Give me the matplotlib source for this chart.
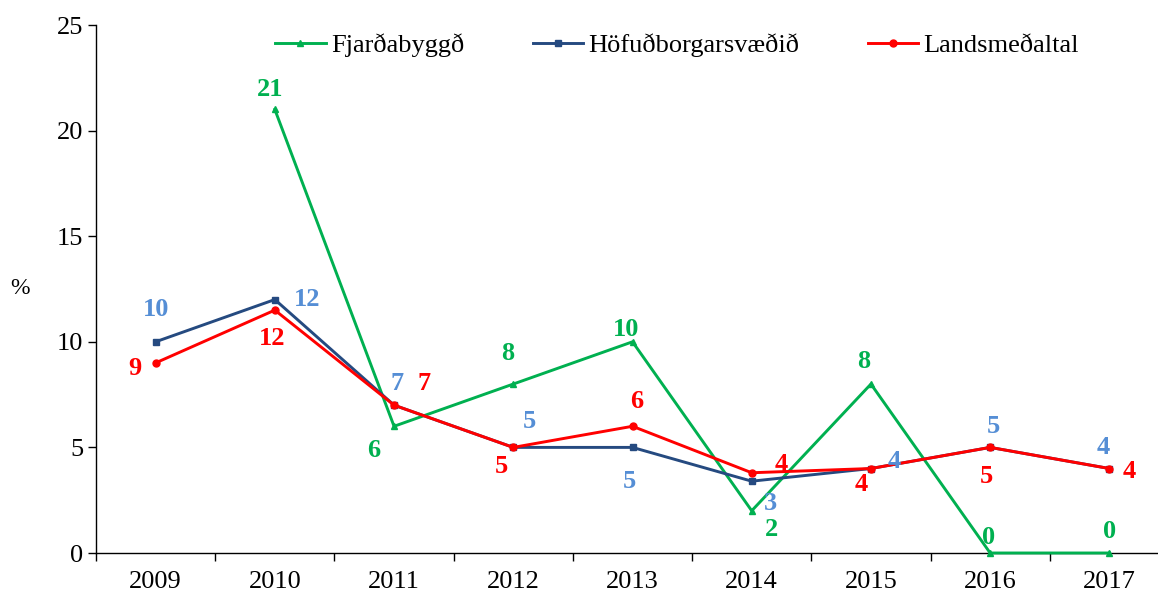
import numpy as np
import matplotlib
matplotlib.use('Agg')
import matplotlib.pyplot as plt

plt.rcParams['font.family'] = ['Liberation Serif', 'DejaVu Serif']

years = ['2009', '2010', '2011', '2012', '2013', '2014', '2015', '2016', '2017']
fjarda = [np.nan, 21, 6, 8, 10, 2, 8, 0, 0]
hofud = [10, 12, 7, 5, 5, 3.4, 4, 5, 4]
lands = [9, 11.5, 7, 5, 6, 3.8, 4, 5, 4]

fjarda_lbl = ['', '21', '6', '8', '10', '2', '8', '0', '0']
hofud_lbl = ['10', '12', '7', '5', '5', '3', '4', '5', '4']
lands_lbl = ['9', '12', '7', '5', '6', '4', '4', '5', '4']

# label offsets in pixels (dx, dy), dy positive = up
fjarda_off = [(0, 0), (-5, 20), (-20, -24), (-6, 31), (-6, 12), (20, -19), (-7, 23), (-2, 16), (0, 21)]
hofud_off = [(0, 32), (32, 0), (3, 22), (16, 26), (-3, -34), (19, -22), (23, 7), (3, 21), (-6, 21)]
lands_off = [(-21, -6), (-3, -28), (30, 22), (-12, -19), (4, 25), (30, 8), (-10, -16), (-4, -29), (20, -3)]

green = '#00B050'
navy = '#254A80'
red = '#FF0000'
lblue = '#558ED5'

fig = plt.figure(figsize=(11.58, 5.96), dpi=100)
ax = fig.add_axes([96/1158, 43/596, 1073/1158, 528/596])

x = np.arange(len(years))
l1, = ax.plot(x, fjarda, color=green, lw=2.1, marker='^', ms=5, label='Fjarðabyggð', clip_on=False, zorder=3)
l2, = ax.plot(x, hofud, color=navy, lw=2.1, marker='s', ms=5, label='Höfuðborgarsvæðið', clip_on=False, zorder=4)
l3, = ax.plot(x, lands, color=red, lw=2.1, marker='o', ms=5, label='Landsmeðaltal', clip_on=False, zorder=5)

def put_labels(vals, lbls, offs, col):
    for i, v in enumerate(vals):
        if lbls[i] == '':
            continue
        ax.annotate(lbls[i], (x[i], v), xytext=offs[i], textcoords='offset pixels',
                    ha='center', va='center', color=col, fontsize=19, fontweight='bold', zorder=6)

put_labels(fjarda, fjarda_lbl, fjarda_off, green)
put_labels(hofud, hofud_lbl, hofud_off, lblue)
put_labels(lands, lands_lbl, lands_off, red)

ax.set_xlim(-0.5, 8.5)
ax.set_ylim(0, 25)
ax.set_yticks([0, 5, 10, 15, 20, 25])
ax.set_xticks(x)
ax.set_xticklabels(years)
ax.set_xticks(np.arange(-0.5, 8.6, 1), minor=True)
ax.tick_params(axis='x', which='major', length=0, pad=13, labelsize=19)
ax.tick_params(axis='x', which='minor', length=6, direction='out', width=1)
ax.tick_params(axis='y', length=6, direction='out', width=1, labelsize=19, pad=3)
for s in ['top', 'right']:
    ax.spines[s].set_visible(False)
for s in ['left', 'bottom']:
    ax.spines[s].set_linewidth(1)

fig.text(20/1158, 1 - 288/596, '%', fontsize=17, ha='center', va='center')

fig.legend(handles=[l1, l2, l3], loc='center', bbox_to_anchor=(677/1158, 1 - 45/596),
           ncol=3, frameon=False, fontsize=19, handlelength=1.9, handletextpad=0.2,
           columnspacing=2.6)

fig.savefig('out.png', dpi=100)
